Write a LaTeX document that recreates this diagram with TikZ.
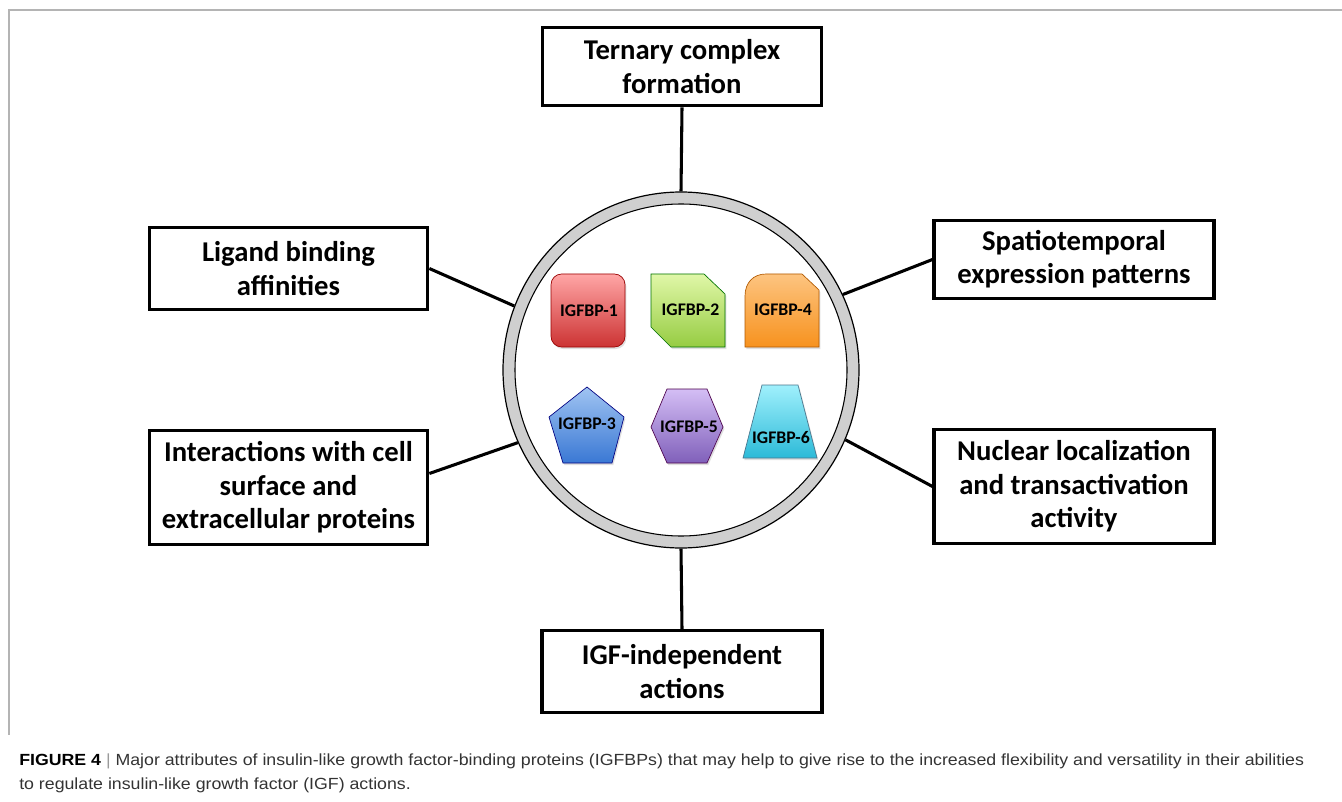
\documentclass[tikz,border=0pt]{standalone}
\usepackage{fontspec}
\newfontfamily\boxfont{Carlito}
\newfontfamily\capfont[FakeStretch=1.1]{Liberation Sans}
\usetikzlibrary{shadings,shadows}
\definecolor{framegray}{HTML}{B4B4B4}
\definecolor{ringgray}{HTML}{CFCFCF}
\definecolor{captext}{HTML}{333333}
\definecolor{capbar}{HTML}{9A9A9A}
\tikzset{
  attrbox/.style={draw=black, line width=2.3pt, fill=white, align=center,
    font=\boxfont\bfseries\fontsize{21.5}{25}\selectfont, inner sep=2pt},
  conn/.style={line width=2.3pt, draw=black},
  prot/.style={line width=0.5pt},
  plabel/.style={font=\boxfont\bfseries\fontsize{13.3}{15}\selectfont, text=black, inner sep=0pt},
  frameline/.style={draw=framegray, line width=1.1pt},
}
\begin{document}
\begin{tikzpicture}[x=0.75pt,y=-0.75pt]
\useasboundingbox (0,0) rectangle (1342,802);
% frame
\draw[frameline] (1342,10) -- (9,10) -- (9,735);

% attribute boxes
\node[attrbox, minimum width=209pt, minimum height=59pt] (tern) at (682,66.5) {Ternary complex\\formation};
\node[attrbox, minimum width=209pt, minimum height=61pt] (lig) at (288.5,268.5) {Ligand binding\\affinities};
\node[attrbox, minimum width=209pt, minimum height=86pt] (inter) at (288.5,487.5) {Interactions with cell\\surface and\\extracellular proteins};
\node[attrbox, minimum width=210pt, minimum height=59pt] (spat) at (1074,259.5) {Spatiotemporal\\expression patterns};
\node[attrbox, minimum width=210pt, minimum height=85pt] (nuc) at (1074,486.5) {Nuclear localization\\and transactivation\\activity};
\node[attrbox, minimum width=210pt, minimum height=61pt] (igf) at (682,671.5) {IGF-independent\\actions};

% ring
\node[circle, draw=black, line width=0.9pt, fill=ringgray, minimum size=267pt, inner sep=0pt] (ring) at (681,370) {};
\node[circle, draw=black, line width=0.8pt, fill=white, minimum size=249pt, inner sep=0pt] (ringin) at (ring) {};

% connectors
\draw[conn] (tern.south) -- (ring.north);
\draw[conn] (igf.north) -- (ring.south);
\draw[conn] (lig.east) -- (ring.159);
\draw[conn] ([yshift=10.5pt]inter.east) -- (ring.204);
\draw[conn] (spat.west) -- (ring.25);
\draw[conn] (nuc.west) -- (ring.-23);

% proteins
\draw[prot, draw=red!60!black, top color=red!35!white, bottom color=red!75!black!80!white, drop shadow={opacity=0.25, shadow xshift=1pt, shadow yshift=-1.5pt}, rounded corners=8pt]
  (551,274) rectangle (625,347);
\node[plabel] (p1) at (589,311) {IGFBP-1};

\draw[prot, draw=green!45!black, top color={rgb,255:red,224;green,247;blue,168}, bottom color={rgb,255:red,150;green,204;blue,66}, drop shadow={opacity=0.25, shadow xshift=1pt, shadow yshift=-1.5pt}]
  (651,274) -- (704,274) -- (725,294) -- (725,347) -- (671,347) -- (651,327) -- cycle;
\node[plabel] (p2) at (690.5,310) {IGFBP-2};

\draw[prot, draw=orange!70!black, top color={rgb,255:red,253;green,196;blue,128}, bottom color={rgb,255:red,247;green,146;blue,30}, drop shadow={opacity=0.25, shadow xshift=1pt, shadow yshift=-1.5pt}]
  (745,347) -- (745,296) .. controls (745,283) and (753,274) .. (766,274) -- (802,274) -- (819,290) -- (819,347) -- cycle;
\node[plabel] (p4) at (783,310) {IGFBP-4};

\draw[prot, draw=blue!50!black, top color={rgb,255:red,160;green,196;blue,242}, bottom color={rgb,255:red,58;green,120;blue,212}, drop shadow={opacity=0.25, shadow xshift=1pt, shadow yshift=-1.5pt}]
  (587,387) -- (624,417) -- (612,463) -- (563,463) -- (549,417) -- cycle;
\node[plabel] (p3) at (587,424) {IGFBP-3};

\draw[prot, draw=violet!60!black, top color={rgb,255:red,212;green,190;blue,245}, bottom color={rgb,255:red,128;green,96;blue,186}, drop shadow={opacity=0.25, shadow xshift=1pt, shadow yshift=-1.5pt}]
  (667,389) -- (707,389) -- (723,427) -- (707,463) -- (667,463) -- (651,427) -- cycle;
\node[plabel] (p5) at (689,427) {IGFBP-5};

\draw[prot, draw=cyan!50!black, top color={rgb,255:red,160;green,240;blue,252}, bottom color={rgb,255:red,44;green,186;blue,216}, drop shadow={opacity=0.25, shadow xshift=1pt, shadow yshift=-1.5pt}]
  (762,385) -- (798,385) -- (817,458) -- (743,458) -- cycle;
\node[plabel] (p6) at (781,438) {IGFBP-6};

% caption
\node[anchor=base west, inner sep=0pt, font=\capfont\fontsize{12.1}{14}\selectfont, text=captext] (cap1) at (19,765)
  {{\bfseries\color{black}FIGURE 4} {\color{capbar}|} Major attributes of insulin-like growth factor-binding proteins (IGFBPs) that may help to give rise to the increased flexibility and versatility in their abilities};
\node[anchor=base west, inner sep=0pt, font=\capfont\fontsize{12.1}{14}\selectfont, text=captext] (cap2) at (19,789)
  {to regulate insulin-like growth factor (IGF) actions.};
\end{tikzpicture}
\end{document}
